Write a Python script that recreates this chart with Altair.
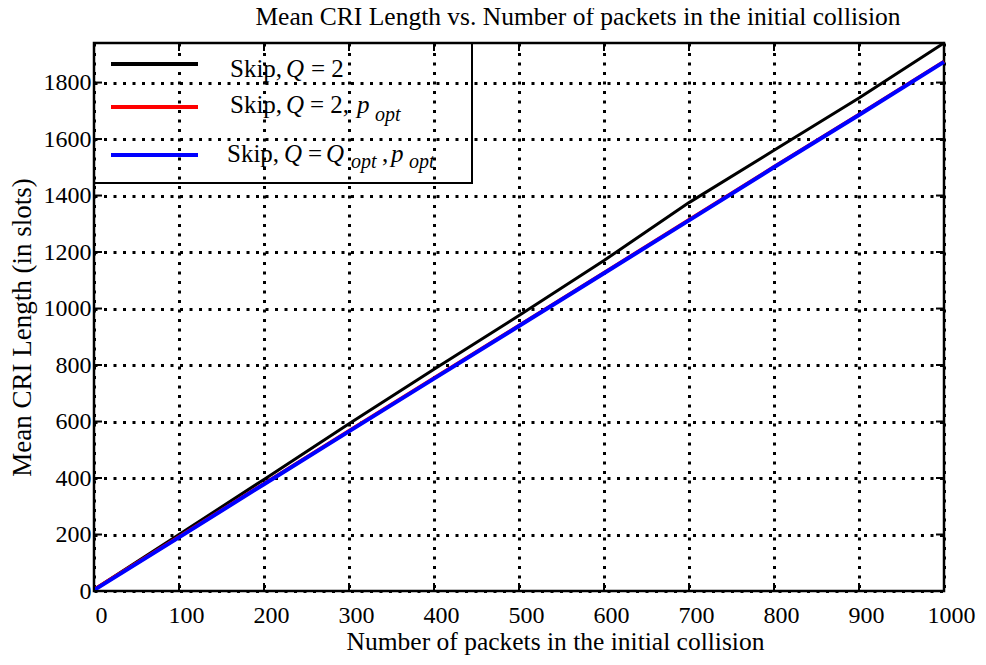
import altair as alt
import pandas as pd

SERIF = "Liberation Serif"

# ---- data ----
n_packets = [0, 100, 200, 300, 400, 500, 600, 700, 800, 900, 1000]
skip_q2 = [5, 200, 395, 592, 785, 975, 1170, 1375, 1560, 1745, 1940]
skip_q2_popt = [5, 192, 380, 567, 754, 940, 1127, 1314, 1502, 1687, 1875]
skip_qopt_popt = [3, 190, 378, 565, 752, 938, 1125, 1312, 1500, 1685, 1873]

series_names = ["Skip, Q = 2", "Skip, Q = 2, p_opt", "Skip, Q = Q_opt, p_opt"]
series_colors = ["#000000", "#ff0000", "#0000ff"]
series_widths = [3, 3.5, 4]

x_ticks = [0, 100, 200, 300, 400, 500, 600, 700, 800, 900, 1000]
y_ticks = [0, 200, 400, 600, 800, 1000, 1200, 1400, 1600, 1800]

title_text = "Mean CRI Length vs. Number of packets in the initial collision"
x_title = "Number of packets in the initial collision"
y_title = "Mean CRI Length (in slots)"

# legend fragments: (text, x, y, italic, size)
legend_frags = [
    ("Skip,", 136, 34, False, 25), ("Q", 192, 34, True, 25), ("= 2", 217, 34, False, 25),
    ("Skip,", 136, 70, False, 25), ("Q", 192, 70, True, 25), ("= 2,", 216, 70, False, 25),
    ("p", 263, 70, True, 25), ("opt", 281, 78, True, 20),
    ("Skip,", 133, 119, False, 25), ("Q", 190, 119, True, 25), ("=", 214, 119, False, 25),
    ("Q", 232, 119, True, 25), ("opt", 257, 125, True, 20), (",", 288, 119, False, 25),
    ("p", 297, 119, True, 25), ("opt", 315, 125, True, 20),
]
legend_line_y = [21, 64, 112]

W, H = 850, 548

rows = []
for name, vals in zip(series_names, [skip_q2, skip_q2_popt, skip_qopt_popt]):
    for n, v in zip(n_packets, vals):
        rows.append({"n": n, "len": v, "series": name})
df = pd.DataFrame(rows)

x_scale = alt.Scale(domain=[0, 1000], nice=False, zero=False)
y_scale = alt.Scale(domain=[0, 1940], nice=False, zero=False)

x_axis = alt.Axis(values=x_ticks, format="d", grid=True, ticks=False, domain=False,
                  labelFont=SERIF, labelFontSize=24, labelColor="black",
                  labelPadding=12, labelOffset=7, labelFlush=False, labelOverlap=False,
                  title=x_title, titleFont=SERIF, titleFontSize=25.5, titleFontWeight="normal",
                  titleColor="black", titleX=461, titleY=58, titleBaseline="alphabetic",
                  titleAlign="center")
y_axis = alt.Axis(values=y_ticks, format="d", grid=True, ticks=False, domain=False,
                  labelFont=SERIF, labelFontSize=24, labelColor="black",
                  labelPadding=3, labelFlush=False, labelOverlap=False,
                  title=y_title, titleFont=SERIF, titleFontSize=27, titleFontWeight="normal",
                  titleColor="black", titleX=-64, titleY=284, titleAngle=-90,
                  titleBaseline="alphabetic", titleAlign="center")

layers = []
for name, col, w in zip(series_names, series_colors, series_widths):
    layers.append(
        alt.Chart(df[df.series == name]).mark_line(color=col, strokeWidth=w, strokeJoin="round").encode(
            x=alt.X("n:Q", scale=x_scale, axis=x_axis),
            y=alt.Y("len:Q", scale=y_scale, axis=y_axis),
        )
    )

xt = pd.DataFrame({"n": x_ticks})
yt = pd.DataFrame({"len": y_ticks})
tick_style = dict(color="black", strokeWidth=2)
layers.append(alt.Chart(xt).mark_rule(**tick_style).encode(
    x=alt.X("n:Q", scale=x_scale, axis=x_axis), y=alt.value(H), y2=alt.value(H - 8)))
layers.append(alt.Chart(xt).mark_rule(**tick_style).encode(
    x=alt.X("n:Q", scale=x_scale, axis=x_axis), y=alt.value(0), y2=alt.value(8)))
layers.append(alt.Chart(yt).mark_rule(**tick_style).encode(
    y=alt.Y("len:Q", scale=y_scale, axis=y_axis), x=alt.value(0), x2=alt.value(8)))
layers.append(alt.Chart(yt).mark_rule(**tick_style).encode(
    y=alt.Y("len:Q", scale=y_scale, axis=y_axis), x=alt.value(W), x2=alt.value(W - 8)))

one = pd.DataFrame({"k": [0]})
# legend box
layers.append(alt.Chart(one).mark_rect(fillOpacity=0, stroke="black", strokeWidth=2).encode(
    x=alt.value(0), x2=alt.value(378), y=alt.value(0), y2=alt.value(140)))
for ly, col in zip(legend_line_y, series_colors):
    layers.append(alt.Chart(one).mark_rule(color=col, strokeWidth=4).encode(
        x=alt.value(17), x2=alt.value(104), y=alt.value(ly)))
for t, fx, fy, it, sz in legend_frags:
    layers.append(alt.Chart(one).mark_text(font=SERIF, fontSize=sz,
                                           fontStyle="italic" if it else "normal",
                                           align="left", baseline="alphabetic", color="black").encode(
        x=alt.value(fx), y=alt.value(fy), text=alt.value(t)))
# title
layers.append(alt.Chart(one).mark_text(font=SERIF, fontSize=25.5, align="center",
                                       baseline="alphabetic", color="black").encode(
    x=alt.value(484), y=alt.value(-18), text=alt.value(title_text)))

chart = alt.layer(*layers).properties(
    width=W, height=H,
    autosize=alt.AutoSizeParams(type="none"),
    padding={"left": 86, "top": 35, "right": 34, "bottom": 66},
).configure_view(stroke="black", strokeWidth=2.5).configure_axis(
    gridColor="black", gridDash=[3, 6.5], gridWidth=3, gridOpacity=1
)

chart.save("out.html", embed_options={"renderer": "svg", "actions": False})
